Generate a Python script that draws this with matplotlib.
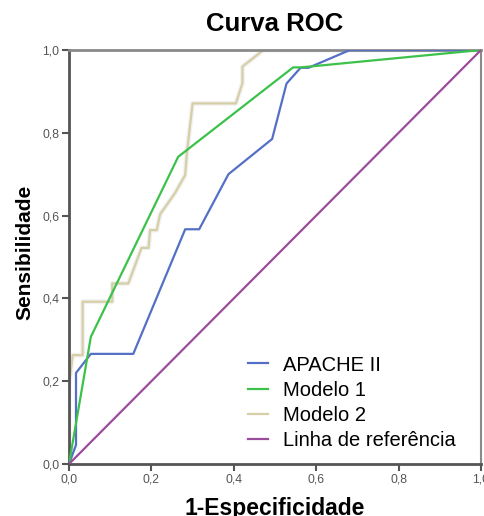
import matplotlib
matplotlib.use("Agg")
import matplotlib.pyplot as plt

plt.rcParams['font.family'] = ['Liberation Sans', 'DejaVu Sans']

# ROC curves (1-especificidade, sensibilidade)
apache_x = [0.0, 0.017, 0.017, 0.053, 0.156, 0.282, 0.316, 0.387, 0.493, 0.528, 0.562, 0.581, 0.682, 1.0]
apache_y = [0.0, 0.046, 0.22, 0.266, 0.266, 0.567, 0.567, 0.70, 0.785, 0.919, 0.957, 0.957, 1.0, 1.0]

modelo1_x = [0.0, 0.053, 0.265, 0.544, 0.563, 1.0]
modelo1_y = [0.0, 0.307, 0.742, 0.958, 0.958, 1.0]

modelo2_x = [0.0, 0.0, 0.009, 0.033, 0.033, 0.105, 0.105, 0.144, 0.176, 0.193, 0.197, 0.213,
             0.221, 0.257, 0.282, 0.286, 0.300, 0.405, 0.421, 0.421, 0.472, 1.0]
modelo2_y = [0.0, 0.19, 0.263, 0.263, 0.392, 0.392, 0.436, 0.436, 0.522, 0.522, 0.565, 0.565,
             0.603, 0.654, 0.698, 0.75, 0.871, 0.871, 0.92, 0.96, 1.0, 1.0]

ref_x = [0.0, 1.0]
ref_y = [0.0, 1.0]

ticks = [0.0, 0.2, 0.4, 0.6, 0.8, 1.0]
tick_labels = ["0,0", "0,2", "0,4", "0,6", "0,8", "1,0"]

fig = plt.figure(figsize=(4.84, 5.16), dpi=100)
ax = fig.add_axes([69 / 484, 52 / 516, 412 / 484, 414 / 516])

# faint halo under Modelo 2, as in the original render
ax.plot(modelo2_x, modelo2_y, color="#f1f1f1", lw=3.5, zorder=1)
ax.plot(apache_x, apache_y, color="#5470c6", lw=1.6, label="APACHE II", zorder=3)
ax.plot(modelo1_x, modelo1_y, color="#3cc14a", lw=1.6, label="Modelo 1", zorder=3)
ax.plot(modelo2_x, modelo2_y, color="#d6cfa6", lw=1.6, label="Modelo 2", zorder=2)
ax.plot(ref_x, ref_y, color="#9c4c9c", lw=1.6, label="Linha de referência", zorder=3)

ax.set_xlim(0, 1)
ax.set_ylim(0, 1)
ax.set_xticks(ticks)
ax.set_xticklabels(tick_labels)
ax.set_yticks(ticks)
ax.set_yticklabels(tick_labels)
ax.tick_params(direction="out", length=5, width=1.5, color="#555555",
               labelsize=8.8, labelcolor="#555555", pad=2)

for side in ["left", "bottom"]:
    ax.spines[side].set_color("#555555")
    ax.spines[side].set_linewidth(2)
ax.spines["top"].set_color("#8a8a8a")
ax.spines["top"].set_linewidth(2)
ax.spines["right"].set_color("#8a8a8a")
ax.spines["right"].set_linewidth(1.5)

fig.text(275 / 484, 1 - 24 / 516, "Curva ROC", ha="center", va="center",
         fontsize=18.5, fontweight="bold")
fig.text(275 / 484, 1 - 509 / 516, "1-Especificidade", ha="center", va="center",
         fontsize=16.5, fontweight="bold")
fig.text(25 / 484, 1 - 252 / 516, "Sensibilidade", ha="center", va="center",
         rotation=90, fontsize=15, fontweight="bold")

ax.legend(loc="upper left", bbox_to_anchor=(0.434, 0.262), frameon=False,
          fontsize=14.5, handlelength=1.0, handletextpad=0.75,
          labelspacing=0.3, borderpad=0, borderaxespad=0)

fig.savefig("out.png", dpi=100)
